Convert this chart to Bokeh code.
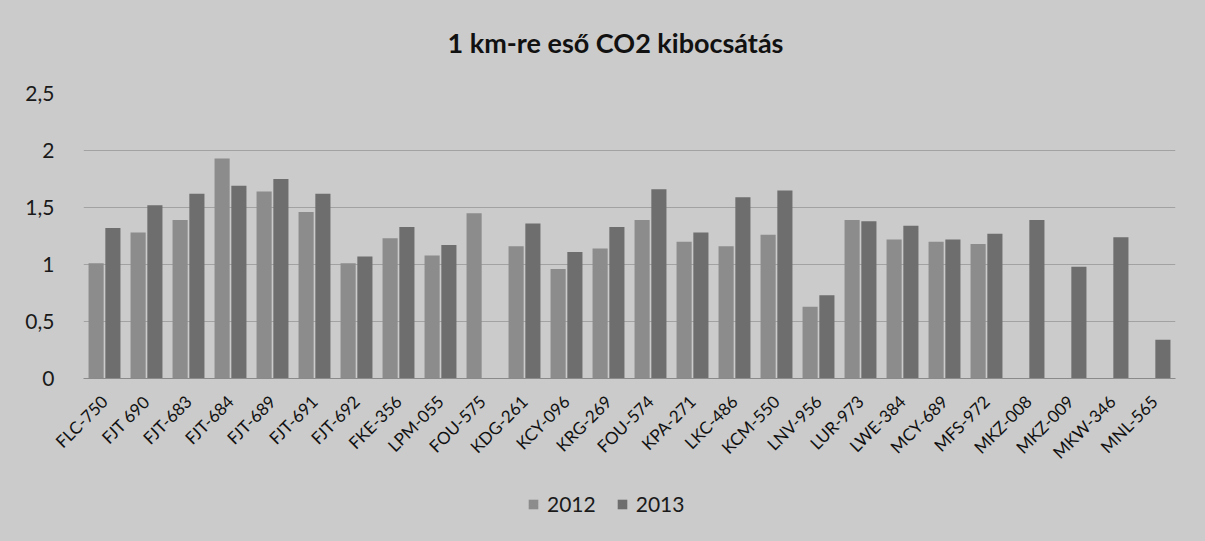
from bokeh.plotting import figure
from bokeh.layouts import column
from bokeh.models import (FactorRange, Range1d, FixedTicker, Legend, LegendItem, Label,
                          ColumnDataSource)
from bokeh.transform import dodge
from bokeh.embed import file_html
from bokeh.resources import INLINE
from math import pi

categories = ["FLC-750", "FJT 690", "FJT-683", "FJT-684", "FJT-689", "FJT-691", "FJT-692",
              "FKE-356", "LPM-055", "FOU-575", "KDG-261", "KCY-096", "KRG-269", "FOU-574",
              "KPA-271", "LKC-486", "KCM-550", "LNV-956", "LUR-973", "LWE-384", "MCY-689",
              "MFS-972", "MKZ-008", "MKZ-009", "MKW-346", "MNL-565"]
values_2012 = [1.01, 1.28, 1.39, 1.93, 1.64, 1.46, 1.01, 1.23, 1.08, 1.45, 1.16, 0.96, 1.14,
               1.39, 1.20, 1.16, 1.26, 0.63, 1.39, 1.22, 1.20, 1.18, None, None, None, None]
values_2013 = [1.32, 1.52, 1.62, 1.69, 1.75, 1.62, 1.07, 1.33, 1.17, None, 1.36, 1.11, 1.33,
               1.66, 1.28, 1.59, 1.65, 0.73, 1.38, 1.34, 1.22, 1.27, 1.39, 0.98, 1.24, 0.34]
series_names = ["2012", "2013"]
y_ticks = [0, 0.5, 1, 1.5, 2, 2.5]
y_tick_labels = ["0", "0,5", "1", "1,5", "2", "2,5"]
title_text = "1 km-re eső CO2 kibocsátás"

BG = "#cbcbcb"
COL = {"2012": "#8c8c8c", "2013": "#6e6e6e"}
FONT = "Lato"
W, L, R = 1205, 83, 30


def strip(height):
    f = figure(width=W, height=height, x_range=Range1d(L, W - R), y_range=Range1d(0, height),
               output_backend="svg", toolbar_location=None, x_axis_type=None, y_axis_type=None,
               min_border_left=L, min_border_right=R, min_border_top=0, min_border_bottom=0)
    f.background_fill_color = BG
    f.border_fill_color = BG
    f.outline_line_color = None
    f.xgrid.visible = False
    f.ygrid.visible = False
    return f


# title strip
t = strip(60)
t.add_layout(Label(x=615, y=18, text=title_text, text_align="center", text_baseline="middle",
                   text_font=FONT, text_font_size="27px", text_font_style="bold",
                   text_color="#111111"))

# main chart
p = figure(width=W, height=420, x_range=FactorRange(*categories), y_range=Range1d(0, 2.5),
           output_backend="svg", toolbar_location=None,
           min_border_left=L, min_border_right=R, min_border_top=33, min_border_bottom=102)
p.background_fill_color = BG
p.border_fill_color = BG
p.outline_line_color = None


def src(vals):
    c = [k for k, v in zip(categories, vals) if v is not None]
    tp = [v for v in vals if v is not None]
    return ColumnDataSource(dict(cat=c, top=tp))


p.vbar(x=dodge("cat", -0.2, range=p.x_range), top="top", width=0.36, source=src(values_2012),
       fill_color=COL["2012"], line_color=None)
p.vbar(x=dodge("cat", 0.2, range=p.x_range), top="top", width=0.36, source=src(values_2013),
       fill_color=COL["2013"], line_color=None)

p.yaxis.ticker = FixedTicker(ticks=y_ticks)
p.yaxis.major_label_overrides = {tk: lb for tk, lb in zip(y_ticks, y_tick_labels)}
p.yaxis.axis_line_color = None
p.yaxis.major_tick_line_color = None
p.yaxis.minor_tick_line_color = None
p.yaxis.major_label_standoff = 23
p.yaxis.major_label_text_font = FONT
p.yaxis.major_label_text_font_size = "21px"
p.yaxis.major_label_text_color = "#1a1a1a"

p.xaxis.axis_line_color = "#8a8a8a"
p.xaxis.major_tick_line_color = None
p.xaxis.minor_tick_line_color = None
p.xaxis.major_label_orientation = pi / 4
p.xaxis.major_label_standoff = 14
p.xaxis.major_label_text_font = FONT
p.xaxis.major_label_text_font_size = "17px"
p.xaxis.major_label_text_color = "#111111"

p.xgrid.grid_line_color = None
p.ygrid.grid_line_color = "#a2a2a2"
p.ygrid.grid_line_width = 1

# legend strip
lg = strip(61)
dummy = ColumnDataSource(dict(x=[-100], top=[-100]))
d12 = lg.vbar(x="x", top="top", width=1, source=dummy, fill_color=COL["2012"], line_color=None)
d13 = lg.vbar(x="x", top="top", width=1, source=dummy, fill_color=COL["2013"], line_color=None)
legend = Legend(items=[LegendItem(label=series_names[0], renderers=[d12]),
                       LegendItem(label=series_names[1], renderers=[d13])],
                location=(444, 25), orientation="horizontal",
                background_fill_alpha=0, border_line_color=None,
                label_text_font=FONT, label_text_font_size="21px", label_text_color="#1a1a1a",
                glyph_width=12, glyph_height=12, label_standoff=8, spacing=20,
                padding=0, margin=0)
lg.add_layout(legend, "center")

layout = column(t, p, lg, spacing=0, styles={"background-color": BG})
open("out.html", "w").write(file_html(layout, INLINE))
